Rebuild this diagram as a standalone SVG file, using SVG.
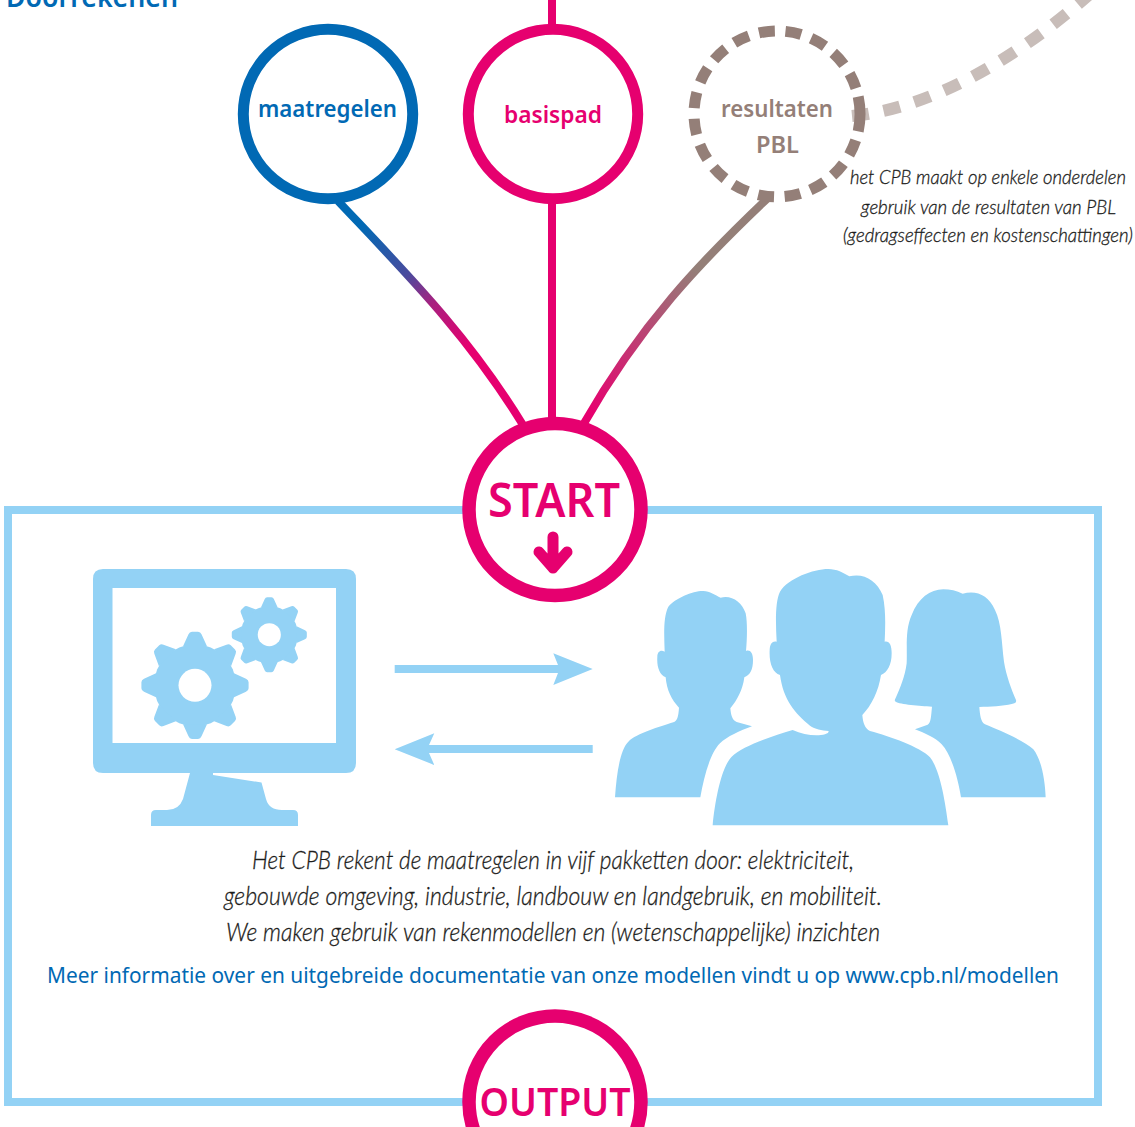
<svg xmlns="http://www.w3.org/2000/svg" xmlns:xlink="http://www.w3.org/1999/xlink" width="1135" height="1127" viewBox="0 0 1135 1127">
<style>
.lb{fill:#93d2f5}
.ring{fill:#fff;stroke-width:11}
.h{font-family:"Noto Sans","Open Sans",sans-serif;font-weight:600;text-anchor:start}
.it{font-family:"Lato","Noto Sans",sans-serif;font-style:italic;font-weight:300;fill:#1d1d1b;stroke:#1d1d1b;stroke-width:.3}
.link{fill:none;stroke-width:8}
</style>
<defs>
<linearGradient id="g1" gradientUnits="userSpaceOnUse" x1="338" y1="201" x2="522" y2="425"><stop offset=".12" stop-color="#0169b4"/><stop offset=".35" stop-color="#4b4a9d"/><stop offset=".48" stop-color="#a8207f"/><stop offset=".68" stop-color="#e6006f"/></linearGradient>
<linearGradient id="g2" gradientUnits="userSpaceOnUse" x1="770" y1="196" x2="583" y2="425"><stop offset=".35" stop-color="#947f78"/><stop offset=".95" stop-color="#e6006f"/></linearGradient>
<path id="tooth" d="M-12-39 L-6.5-51 Q-5.5-53.6-3-53.6 H3 Q5.5-53.6 6.5-51 L12-39 Z"/>
<g id="gear" class="lb">
<circle r="41"/>
<use xlink:href="#tooth"/><use xlink:href="#tooth" transform="rotate(45)"/><use xlink:href="#tooth" transform="rotate(90)"/><use xlink:href="#tooth" transform="rotate(135)"/><use xlink:href="#tooth" transform="rotate(180)"/><use xlink:href="#tooth" transform="rotate(225)"/><use xlink:href="#tooth" transform="rotate(270)"/><use xlink:href="#tooth" transform="rotate(315)"/>
<circle r="16.5" fill="#fff"/>
</g>
</defs>
<rect width="1135" height="1127" fill="#fff"/>
<text class="h" x="6" y="7" font-size="28" fill="#0169b4" textLength="172" lengthAdjust="spacingAndGlyphs">Doorrekenen</text>
<g id="connectors">
<path d="M852 116 C925 109 1010 65 1092 -8" fill="none" stroke="#c8bdb9" stroke-width="12" stroke-dasharray="17 15"/>
<path class="link" d="M552 -2 V26" stroke="#e6006f"/>
<path class="link" d="M552 200 V425" stroke="#e6006f"/>
<path class="link" d="M338 201 C405 272 468 335 523 425" stroke="url(#g1)"/>
<path class="link" d="M770 196 C700 262 640 325 583 425" stroke="url(#g2)"/>
</g>
<g id="panel">
<rect x="8" y="510" width="1090" height="592" fill="none" stroke="#93d2f5" stroke-width="8"/>
</g>
<g id="maatregelen">
<circle class="ring" cx="328" cy="114" r="84.7" stroke="#0169b4"/>
<text class="h" x="258" y="117" font-size="24" fill="#0169b4" textLength="139" lengthAdjust="spacingAndGlyphs">maatregelen</text>
</g>
<g id="basispad">
<circle class="ring" cx="553" cy="114" r="84.7" stroke="#e6006f"/>
<text class="h" x="504" y="123" font-size="24" fill="#e6006f" textLength="98" lengthAdjust="spacingAndGlyphs">basispad</text>
</g>
<g id="resultaten">
<path d="M855.7 140.3 A83 83 0 1 1 858.2 96.7" fill="none" stroke="#947f78" stroke-width="11" stroke-dasharray="16 10.6"/>
<path d="M858.2 96.7 A83 83 0 0 1 858.2 131.3" fill="none" stroke="#947f78" stroke-width="11"/>
<text class="h" x="721" y="117" font-size="24" fill="#947f78" textLength="112" lengthAdjust="spacingAndGlyphs">resultaten</text>
<text class="h" x="756" y="153" font-size="24" fill="#947f78" textLength="43" lengthAdjust="spacingAndGlyphs">PBL</text>
</g>
<g id="note">
<text class="it" x="850" y="184" font-size="19" textLength="276" lengthAdjust="spacingAndGlyphs">het CPB maakt op enkele onderdelen</text>
<text class="it" x="861" y="214" font-size="19" textLength="255" lengthAdjust="spacingAndGlyphs">gebruik van de resultaten van PBL</text>
<text class="it" x="843" y="242" font-size="19" textLength="290" lengthAdjust="spacingAndGlyphs">(gedragseffecten en kostenschattingen)</text>
</g>
<g id="start">
<circle cx="555" cy="509.5" r="86" fill="#fff" stroke="#e6006f" stroke-width="13.5"/>
<text class="h" x="488" y="517" font-size="46" fill="#e6006f" textLength="132" lengthAdjust="spacingAndGlyphs">START</text>
<path d="M553 537 V568 M539 552 L553 568 L567 552" fill="none" stroke="#e6006f" stroke-width="11" stroke-linecap="round" stroke-linejoin="round"/>
</g>
<g id="computer">
<path class="lb" fill-rule="evenodd" d="M103 569 H346 Q356 569 356 579 V763 Q356 773 346 773 H213 V775 L261.5 782.5 L266 799 Q269 810 282 810 H293 Q298 810 298 815 V826 H151 V815 Q151 810 156 810 H167 Q179 810 183 799 L190 773 H103 Q93 773 93 763 V579 Q93 569 103 569 Z M112.5 588 V743 H336 V588 Z"/>
<use xlink:href="#gear" transform="translate(195 685.3)"/>
<use xlink:href="#gear" transform="translate(269.3 634.7) scale(.7)"/>
</g>
<g id="exchange">
<path class="lb" d="M394.7 665 H558 L553.3 653.3 L592.7 669 L553.3 685 L558 673 H394.7 Z"/>
<path class="lb" d="M592.7 745 H429 L434.3 733.3 L394.7 749.3 L434.3 765 L429 753 H592.7 Z"/>
</g>
<g id="people" transform="translate(600 560) scale(.33333)">
<path class="lb" d="M45 712 C50 640 60 570 85 545 C110 520 180 500 220 487 C232 483 235 470 237 443 C215 420 200 390 197 352 C178 345 170 320 172 290 C172 275 182 268 194 275 C192 220 190 170 205 140 C225 115 280 92 310 93 C330 94 345 105 362 113 C395 105 425 125 437 160 C443 190 441 240 438 273 C450 268 459 278 459 300 C459 330 450 345 433 352 C428 390 412 420 391 445 C393 465 396 480 410 486 L456 499 C420 512 380 530 360 550 C330 580 312 650 301 712 Z"/>
<path class="lb" d="M338 796 C345 720 365 620 395 590 C425 560 510 530 578 510 C610 525 650 530 675 523 C683 520 686 518 686 513 C665 511 645 508 630 497 C585 460 550 420 540 345 C518 338 507 310 509 270 C510 250 518 242 530 245 C527 190 525 125 540 95 C565 55 640 27 685 27 C710 27 730 38 748 49 C790 38 830 60 848 105 C858 150 856 200 854 245 C868 242 875 255 875 280 C875 315 862 338 843 345 C835 395 815 435 787 465 C789 490 795 505 810 513 C870 530 960 560 990 592 C1020 630 1035 720 1045 796 Z"/>
<path class="lb" d="M1083 712 C1075 660 1055 585 1025 553 C1005 532 975 520 945 508 L983 494 C993 488 993 470 996 440 C960 438 900 433 887 425 C882 420 885 420 888 412 C900 385 915 350 920 310 C922 260 915 210 935 165 C955 115 990 88 1030 88 C1050 88 1070 92 1088 101 C1130 90 1165 105 1185 150 C1205 190 1205 250 1212 305 C1218 345 1235 390 1248 420 C1250 428 1245 430 1235 432 C1210 438 1170 440 1138 441 C1140 465 1142 485 1155 493 C1200 512 1270 540 1300 568 C1325 600 1335 660 1337 712 Z"/>
</g>
<g id="caption">
<text class="it" x="252" y="869" font-size="25" textLength="602" lengthAdjust="spacingAndGlyphs">Het CPB rekent de maatregelen in vijf pakketten door: elektriciteit,</text>
<text class="it" x="224" y="905" font-size="25" textLength="658" lengthAdjust="spacingAndGlyphs">gebouwde omgeving, industrie, landbouw en landgebruik, en mobiliteit.</text>
<text class="it" x="226" y="941" font-size="25" textLength="654" lengthAdjust="spacingAndGlyphs">We maken gebruik van rekenmodellen en (wetenschappelijke) inzichten</text>
<text x="47" y="983" font-family="Noto Sans, Open Sans, sans-serif" font-size="22" fill="#0169b4" textLength="1012" lengthAdjust="spacingAndGlyphs">Meer informatie over en uitgebreide documentatie van onze modellen vindt u op www.cpb.nl/modellen</text>
</g>
<g id="output">
<circle cx="555" cy="1102" r="86" fill="#fff" stroke="#e6006f" stroke-width="13.5"/>
<text class="h" x="479.5" y="1116" font-size="39" fill="#e6006f" textLength="151" lengthAdjust="spacingAndGlyphs">OUTPUT</text>
</g>
</svg>
